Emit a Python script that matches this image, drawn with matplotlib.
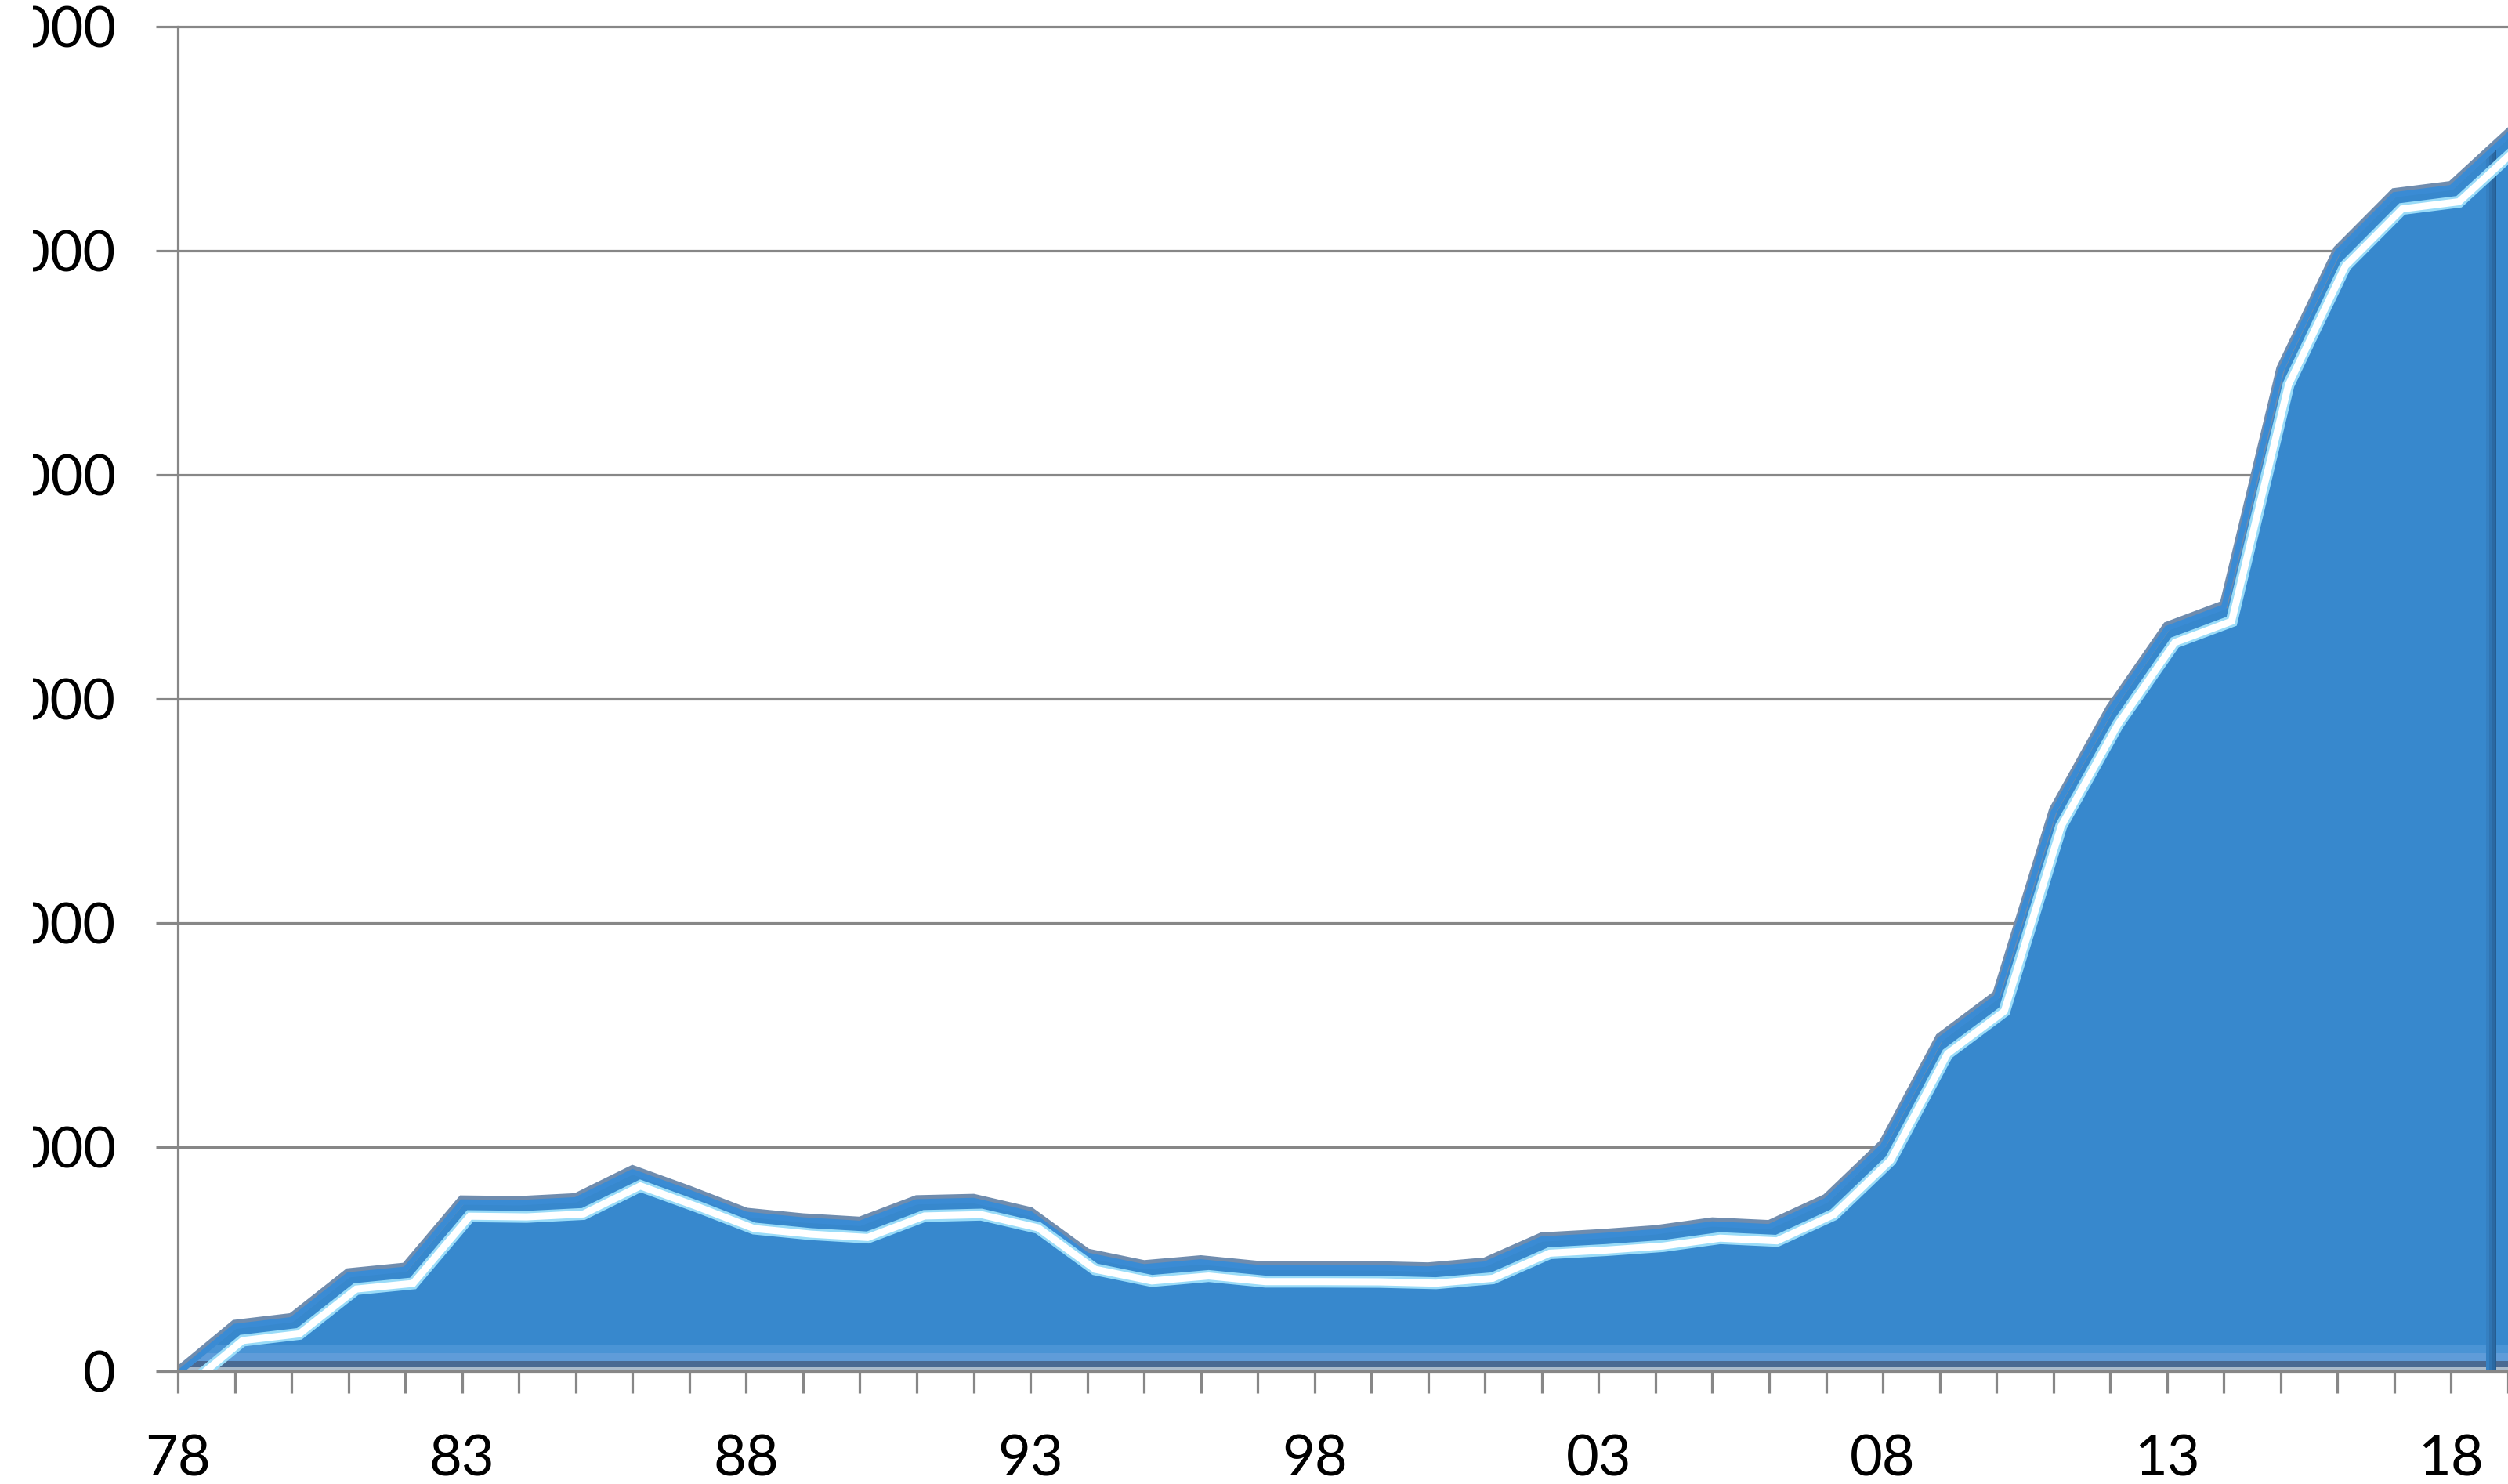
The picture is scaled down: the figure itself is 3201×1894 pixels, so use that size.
import matplotlib
matplotlib.use("Agg")
import matplotlib.pyplot as plt
import matplotlib.transforms as mtransforms
from matplotlib.patches import Polygon, Rectangle

plt.rcParams['font.family'] = ['Lato', 'DejaVu Sans']

# ── data ──────────────────────────────────────────────────────
years = list(range(1978, 2020))
values = [0, 210, 240, 440, 465, 765, 762, 775, 900, 808,
          710, 685, 670, 766, 772, 713, 528, 476, 498, 473,
          473, 472, 466, 488, 600, 614, 632, 667, 655, 772,
          1015, 1490, 1680, 2505, 2960, 3325, 3420, 4475, 5005, 5260,
          5292, 5525]

xtick_years = [1978, 1983, 1988, 1993, 1998, 2003, 2008, 2013, 2018]
xtick_labels = ['78', '83', '88', '93', '98', '03', '08', '13', '18']
ytick_vals = [0, 1000, 2000, 3000, 4000, 5000, 6000]
ytick_labels = ['0', '1000', '2000', '3000', '4000', '5000', '6000']

GREY = '#878787'
FILL = '#3788CD'

fig = plt.figure(figsize=(32.01, 18.94), dpi=100)
ax = fig.add_axes([0.07092, 0.07603, 0.92908, 0.91056])
ax.set_xlim(1978, 2018.8)
ax.set_ylim(0, 6030)

# ── area with a fake 3D bevel ─────────────────────────────────
verts = list(zip(years, values)) + [(years[-1], 0), (years[0], 0)]
area = Polygon(verts, closed=True, facecolor=FILL, edgecolor='none', zorder=2)
ax.add_patch(area)

# floor bands along the base
for lo, hi, col in [(0, 17, '#AABBCB'), (17, 46, '#4A6A92'),
                    (46, 80, '#5F9CD9'), (80, 120, '#4A94D5')]:
    band = ax.axhspan(lo, hi, color=col, lw=0, zorder=2.1)
    band.set_clip_path(area)

# darker side at the right edge (simple stepped gradient)
for x0, col in [(2018.62, '#3580C2'), (2018.67, '#2F74B2'),
                (2018.72, '#2A68A1'), (2018.76, '#255C90')]:
    side = ax.axvspan(x0, 2018.8, color=col, lw=0, zorder=2.15)
    side.set_clip_path(area)

# outer rim
ax.plot(years, values, color='#6F8CAE', lw=8, solid_joinstyle='miter',
        zorder=3)
rim = mtransforms.offset_copy(ax.transData, fig=fig, x=0, y=-3, units='dots')
ax.plot(years, values, color='#3A8BD4', lw=5, transform=rim,
        solid_joinstyle='miter', zorder=3.1)

# white highlight, shifted down/right
hl = mtransforms.offset_copy(ax.transData, fig=fig, x=10, y=-21, units='dots')
glow, = ax.plot(years, values, color='#9ADCF8', lw=11, transform=hl,
                solid_joinstyle='miter', zorder=3.2)
glow.set_clip_path(area)
white, = ax.plot(years, values, color='white', lw=6.5, transform=hl,
                 solid_joinstyle='miter', zorder=3.3)
white.set_clip_path(area)

# ── axes styling ──────────────────────────────────────────────
ax.set_axisbelow(True)
ax.yaxis.grid(True, color=GREY, lw=2.3)
for s in ['top', 'right']:
    ax.spines[s].set_visible(False)
for s in ['left', 'bottom']:
    ax.spines[s].set_color(GREY)
    ax.spines[s].set_linewidth(2.3)
    ax.spines[s].set_zorder(4)
ax.spines['left'].set_bounds(0, 6000)

ax.set_xticks(xtick_years, labels=xtick_labels)
ax.set_xticks(years, minor=True)
ax.set_yticks(ytick_vals, labels=ytick_labels)
ax.tick_params(which='both', direction='out', length=20, width=2.3,
               color=GREY, labelsize=52, labelcolor='black')
ax.tick_params(axis='x', pad=38)
ax.tick_params(axis='y', pad=37)

# the source image is cropped on the left, hiding the first digits
fig.patches.append(Rectangle((0, 0), 42 / 3201, 1, transform=fig.transFigure,
                             facecolor='white', edgecolor='none', zorder=10))

fig.savefig('out.png', dpi=100, facecolor='white')
